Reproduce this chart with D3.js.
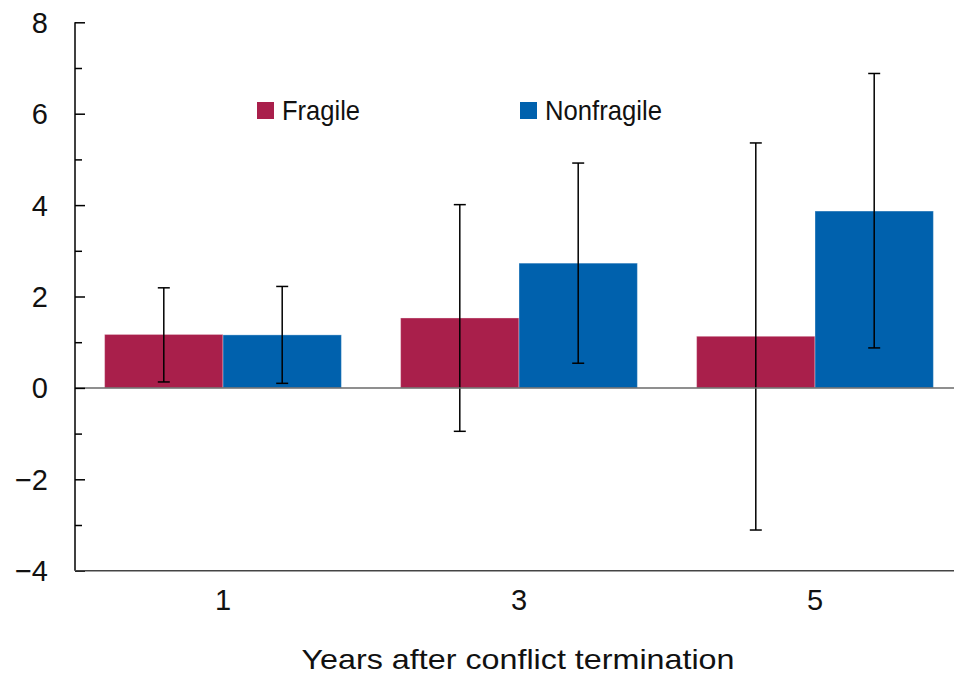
<!DOCTYPE html>
<html>
<head>
<meta charset="utf-8">
<script src="https://cdn.jsdelivr.net/npm/d3@7"></script>
<style>
  html, body { margin: 0; padding: 0; background: #fff; }
  svg { display: block; }
  text { font-family: "Liberation Sans", Arial, sans-serif; fill: #111; }
</style>
</head>
<body>
<svg id="chart" width="954" height="677"></svg>
<script>
// Growth after conflict termination, by state fragility
const years = ["1", "3", "5"];
const seriesNames = ["Fragile", "Nonfragile"];
const fragile = [1.17, 1.53, 1.13];
const nonfragile = [1.16, 2.73, 3.87];
const fragileLow = [0.13, -0.95, -3.11];
const fragileHigh = [2.19, 4.01, 5.36];
const nonfragileLow = [0.10, 0.54, 0.875];
const nonfragileHigh = [2.22, 4.92, 6.88];
const yTicks = [-4, -2, 0, 2, 4, 6, 8];
const yMinorTicks = [-3, -1, 1, 3, 5, 7];
const colors = ["#A91F4B", "#0061AD"];
const xTitle = "Years after conflict termination";

const series = [
  { name: seriesNames[0], values: fragile, low: fragileLow, high: fragileHigh },
  { name: seriesNames[1], values: nonfragile, low: nonfragileLow, high: nonfragileHigh }
];

const svg = d3.select("#chart");
const plotLeft = 75, plotRight = 963, plotTop = 22.3, plotBottom = 570.7, svgW = 954;

const x = d3.scaleBand().domain(years).range([plotLeft, plotRight]).paddingInner(0.2).paddingOuter(0.1);
const xs = d3.scaleBand().domain(seriesNames).range([0, x.bandwidth()]);
const y = d3.scaleLinear().domain([-4, 8]).range([plotBottom, plotTop]);

// bars
const groups = svg.append("g").selectAll("g")
  .data(years.map((yr, i) => ({ yr, i })))
  .join("g")
  .attr("transform", d => `translate(${x(d.yr)},0)`);

groups.selectAll("rect")
  .data(d => series.map((s, k) => ({ s, k, v: s.values[d.i] })))
  .join("rect")
  .attr("x", d => xs(d.s.name))
  .attr("width", xs.bandwidth())
  .attr("y", d => y(Math.max(0, d.v)))
  .attr("height", d => Math.abs(y(d.v) - y(0)))
  .attr("fill", d => colors[d.k])
  .attr("stroke", "rgba(255,255,255,0.35)")
  .attr("stroke-width", 1);

// zero line
svg.append("line")
  .attr("x1", plotLeft).attr("x2", svgW)
  .attr("y1", y(0)).attr("y2", y(0))
  .attr("stroke", "#6a6a6a").attr("stroke-width", 1.5);

// error bars
const cap = 6;
const eb = groups.selectAll("g.err")
  .data(d => series.map((s, k) => ({ s, k, lo: s.low[d.i], hi: s.high[d.i] })))
  .join("g").attr("class", "err")
  .attr("transform", d => `translate(${xs(d.s.name) + xs.bandwidth() / 2},0)`)
  .attr("stroke", "#000").attr("stroke-width", 1.5);
eb.append("line").attr("y1", d => y(d.lo)).attr("y2", d => y(d.hi));
eb.append("line").attr("x1", -cap).attr("x2", cap).attr("y1", d => y(d.hi)).attr("y2", d => y(d.hi));
eb.append("line").attr("x1", -cap).attr("x2", cap).attr("y1", d => y(d.lo)).attr("y2", d => y(d.lo));

// y axis with inward ticks
const yAxis = svg.append("g").attr("transform", `translate(${plotLeft},0)`);
yAxis.call(d3.axisRight(y).tickValues(yTicks).tickSize(10).tickFormat(""))
  .call(g => g.select(".domain").remove());
yAxis.append("g").call(d3.axisRight(y).tickValues(yMinorTicks).tickSize(7).tickFormat(""))
  .call(g => g.select(".domain").remove());
yAxis.selectAll("line").attr("stroke", "#000").attr("stroke-width", 1.5);
yAxis.append("line").attr("x1", 0).attr("x2", 0).attr("y1", y(8)).attr("y2", y(-4))
  .attr("stroke", "#000").attr("stroke-width", 1.5);
yAxis.selectAll("text.lbl")
  .data(yTicks).join("text").attr("class", "lbl")
  .attr("x", -27).attr("y", d => y(d)).attr("dy", "0.36em")
  .attr("text-anchor", "end").attr("font-size", 29)
  .text(d => d < 0 ? "\u2212" + Math.abs(d) : d);

// x axis baseline and labels
svg.append("line")
  .attr("x1", plotLeft).attr("x2", svgW)
  .attr("y1", plotBottom).attr("y2", plotBottom)
  .attr("stroke", "#444").attr("stroke-width", 1.5);
svg.append("g").selectAll("text")
  .data(years).join("text")
  .attr("x", d => x(d) + x.bandwidth() / 2)
  .attr("y", 610)
  .attr("text-anchor", "middle").attr("font-size", 29)
  .text(d => d);

svg.append("text")
  .attr("x", 301.5).attr("y", 668.5)
  .attr("font-size", 28)
  .attr("textLength", 433).attr("lengthAdjust", "spacingAndGlyphs")
  .text(xTitle);

// legend
const legendX = [257, 520];
const legendW = [78, 117];
const leg = svg.append("g").selectAll("g")
  .data(series).join("g")
  .attr("transform", (d, i) => `translate(${legendX[i]},102)`);
leg.append("rect").attr("width", 17).attr("height", 17).attr("fill", (d, i) => colors[i]);
leg.append("text").attr("x", 25).attr("y", 18)
  .attr("font-size", 28)
  .attr("textLength", (d, i) => legendW[i]).attr("lengthAdjust", "spacingAndGlyphs")
  .text(d => d.name);
</script>
</body>
</html>
